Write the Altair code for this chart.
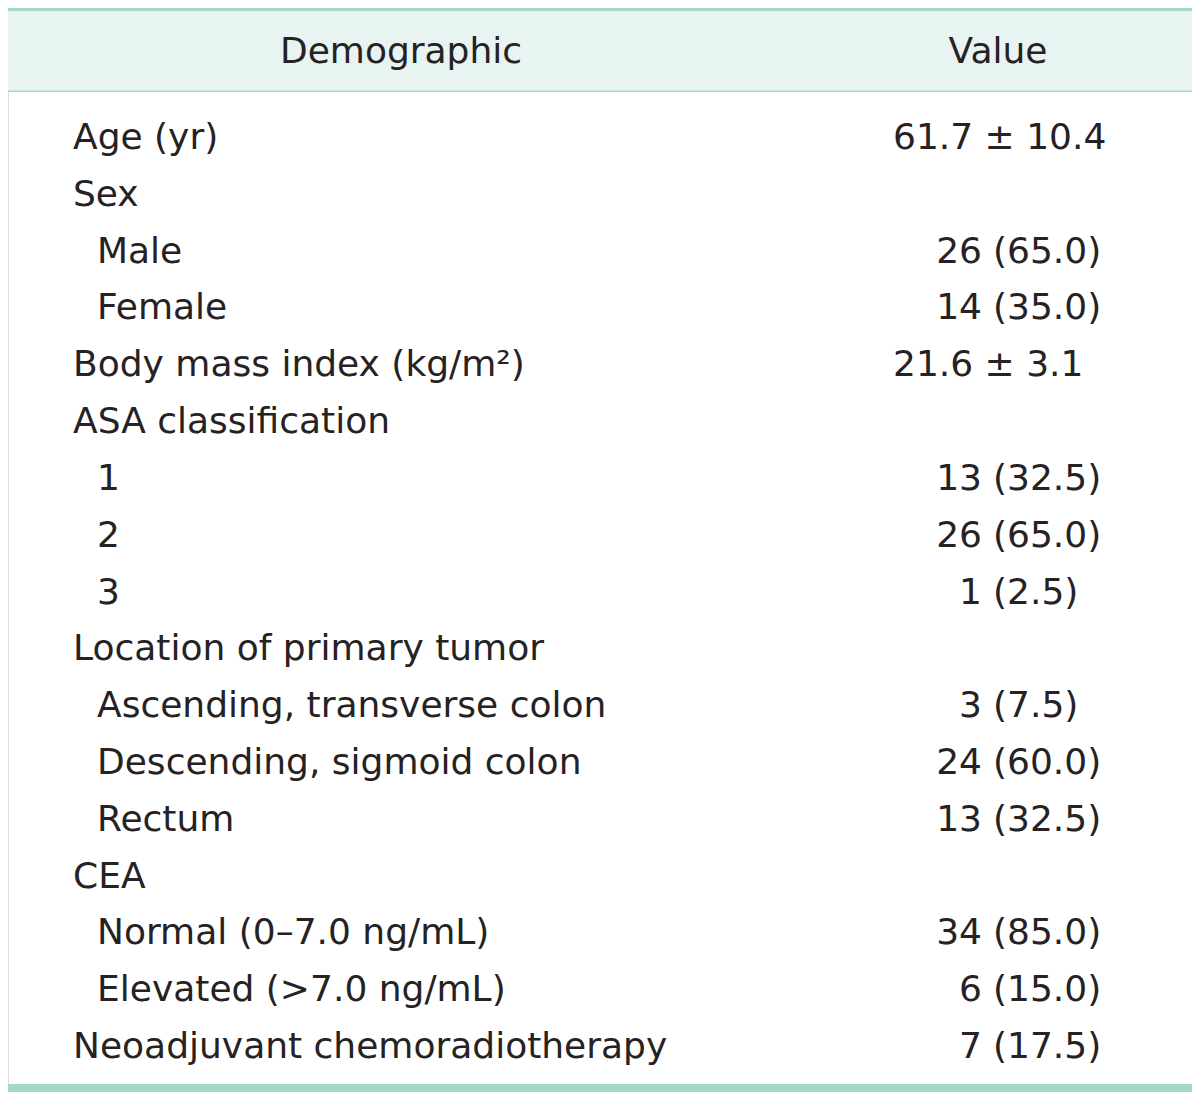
import altair as alt
import pandas as pd

labels = [
    "Age (yr)", "Sex", "Male", "Female", "Body mass index (kg/m\u00b2)",
    "ASA classification", "1", "2", "3", "Location of primary tumor",
    "Ascending, transverse colon", "Descending, sigmoid colon", "Rectum",
    "CEA", "Normal (0\u20137.0 ng/mL)", "Elevated (>7.0 ng/mL)",
    "Neoadjuvant chemoradiotherapy",
]
indent = [0, 0, 1, 1, 0, 0, 1, 1, 1, 0, 1, 1, 1, 0, 1, 1, 0]
values = [
    "61.7 \u00b1 10.4", "", "26 (65.0)", "14 (35.0)", "21.6 \u00b1 3.1",
    "", "13 (32.5)", "26 (65.0)", "1 (2.5)", "", "3 (7.5)", "24 (60.0)",
    "13 (32.5)", "", "34 (85.0)", "6 (15.0)", "7 (17.5)",
]
headers = ["Demographic", "Value"]

FONT = "DejaVu Sans"
FS = 36
TEXT = "#262223"
TEAL = "#a3d9cd"
MINT = "#e7f4f2"
W, H = 1184, 1084

rows = []
for i, (lab, ind, val) in enumerate(zip(labels, indent, values)):
    pm = "\u00b1" in val
    if val and not pm:
        k = val.find("(")
        pre, post = val[:k].strip(), val[k:]
    else:
        pre, post = "", ""
    rows.append(dict(row=i, label=lab, indent=ind, pm=val if pm else "",
                     pre=pre, post=post))
df = pd.DataFrame(rows)

yscale = alt.Scale(domain=[0, len(labels) - 1], range=[141, 1050])
y = alt.Y("row:Q", scale=yscale, axis=None)

base = alt.Chart(df)

def txt(**kw):
    return base.mark_text(font=FONT, fontSize=FS, color=TEXT,
                          baseline="alphabetic", **kw)

lab_main = txt(align="left").encode(x=alt.value(65), y=y, text="label:N").transform_filter("datum.indent == 0")
lab_ind = txt(align="left").encode(x=alt.value(89), y=y, text="label:N").transform_filter("datum.indent == 1")
val_pm = txt(align="left").encode(x=alt.value(885), y=y, text="pm:N")
val_pre = txt(align="right").encode(x=alt.value(974), y=y, text="pre:N")
val_post = txt(align="left").encode(x=alt.value(985), y=y, text="post:N")

hdf = pd.DataFrame({"h": headers, "pos": [393, 990]})
hbase = alt.Chart(hdf)
hdr = hbase.mark_text(font=FONT, fontSize=FS, color=TEXT,
                      baseline="alphabetic", align="center").encode(
    x=alt.X("pos:Q", scale=alt.Scale(domain=[0, W], range=[0, W]), axis=None),
    y=alt.value(55), text="h:N")

band = alt.Chart(pd.DataFrame({"k": [0]}))
header_bg = band.mark_rect(color=MINT).encode(
    x=alt.value(0), x2=alt.value(W), y=alt.value(0), y2=alt.value(83))
top_line = band.mark_rect(color=TEAL).encode(
    x=alt.value(0), x2=alt.value(W), y=alt.value(0), y2=alt.value(3))
head_line = band.mark_rect(color=TEAL).encode(
    x=alt.value(0), x2=alt.value(W), y=alt.value(82.5), y2=alt.value(84))
bot_line = band.mark_rect(color=TEAL).encode(
    x=alt.value(0), x2=alt.value(W), y=alt.value(1076), y2=alt.value(1084))

chart = alt.layer(
    header_bg, top_line, head_line, bot_line, hdr,
    lab_main, lab_ind, val_pm, val_pre, val_post,
).properties(
    width=W, height=H, padding=0,
    autosize=alt.AutoSizeParams(type="none"),
).configure_view(stroke=None).configure(background="white")

chart.save("out.html", embed_options={"renderer": "svg", "actions": False})
